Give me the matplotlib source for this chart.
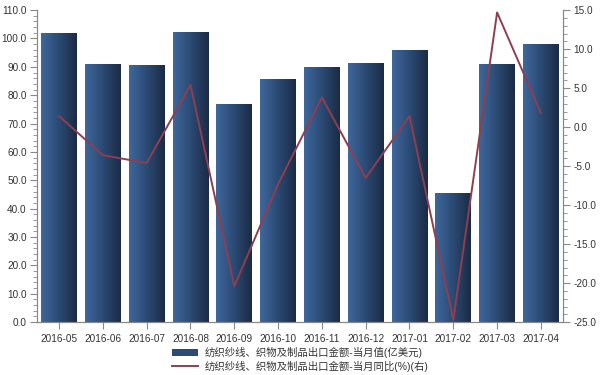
import matplotlib
matplotlib.use("Agg")
import matplotlib.pyplot as plt
import numpy as np
from matplotlib.ticker import MultipleLocator, FormatStrFormatter
from matplotlib.colors import LinearSegmentedColormap

plt.rcParams['font.family'] = ['Liberation Sans', 'Noto Sans CJK SC', 'DejaVu Sans']

categories = ['2016-05', '2016-06', '2016-07', '2016-08', '2016-09', '2016-10',
              '2016-11', '2016-12', '2017-01', '2017-02', '2017-03', '2017-04']
values = [102.0, 91.0, 90.5, 102.3, 77.0, 85.8, 89.8, 91.4, 95.8, 45.5, 90.9, 98.1]
yoy = [1.4, -3.6, -4.6, 5.4, -20.4, -7.3, 3.8, -6.5, 1.4, -24.7, 14.7, 1.8]
legend_labels = ['纺织纱线、织物及制品出口金额-当月值(亿美元)',
                 '纺织纱线、织物及制品出口金额-当月同比(%)(右)']

fig = plt.figure(figsize=(6, 3.75), dpi=100)
ax = fig.add_axes([0.062, 0.141, 0.876, 0.832])
ax2 = ax.twinx()

x = np.arange(len(categories))
bw = 0.82
cmap = LinearSegmentedColormap.from_list('bar', ['#3e679b', '#2b4a74', '#1b2b45'])
grad = np.linspace(0, 1, 64).reshape(1, -1)
bars = ax.bar(x, values, width=bw, color='#2b4a74', label=legend_labels[0])
for b in bars:
    bx, by = b.get_x(), b.get_y()
    w, h = b.get_width(), b.get_height()
    im = ax.imshow(grad, cmap=cmap, aspect='auto', extent=[bx, bx + w, by, by + h],
                   zorder=b.get_zorder() + 0.1)
    im.set_clip_path(b)

ax.set_xlim(-0.5, len(categories) - 0.5)
ax.set_ylim(0, 110)
ax.yaxis.set_major_locator(MultipleLocator(10))
ax.yaxis.set_minor_locator(MultipleLocator(2))
ax.yaxis.set_major_formatter(FormatStrFormatter('%.1f'))
ax.set_xticks(x)
ax.set_xticklabels(categories)

line, = ax2.plot(x, yoy, color='#8e3f4f', lw=1.4, label=legend_labels[1])
ax2.set_ylim(-25, 15)
ax2.yaxis.set_major_locator(MultipleLocator(5))
ax2.yaxis.set_minor_locator(MultipleLocator(1))
ax2.yaxis.set_major_formatter(FormatStrFormatter('%.1f'))

for a in (ax, ax2):
    a.spines['top'].set_visible(False)
    for s in ('left', 'right', 'bottom'):
        a.spines[s].set_color('#888888')
    a.tick_params(colors='#888888', labelcolor='#333333', labelsize=7.2, length=5, width=0.8, pad=2.5)
    a.tick_params(which='minor', colors='#888888', length=3, width=0.6)
ax.tick_params(axis='x', length=5, pad=3.5)
ax.set_zorder(ax2.get_zorder() - 1)
ax2.patch.set_visible(False)

fig.legend([bars, line], legend_labels, loc='upper center', bbox_to_anchor=(0.5, 0.085),
           frameon=False, fontsize=7.5, labelcolor='#333333', handlelength=2.5,
           handletextpad=0.6, borderaxespad=0, labelspacing=0.2)

fig.savefig('out.png', dpi=100)
